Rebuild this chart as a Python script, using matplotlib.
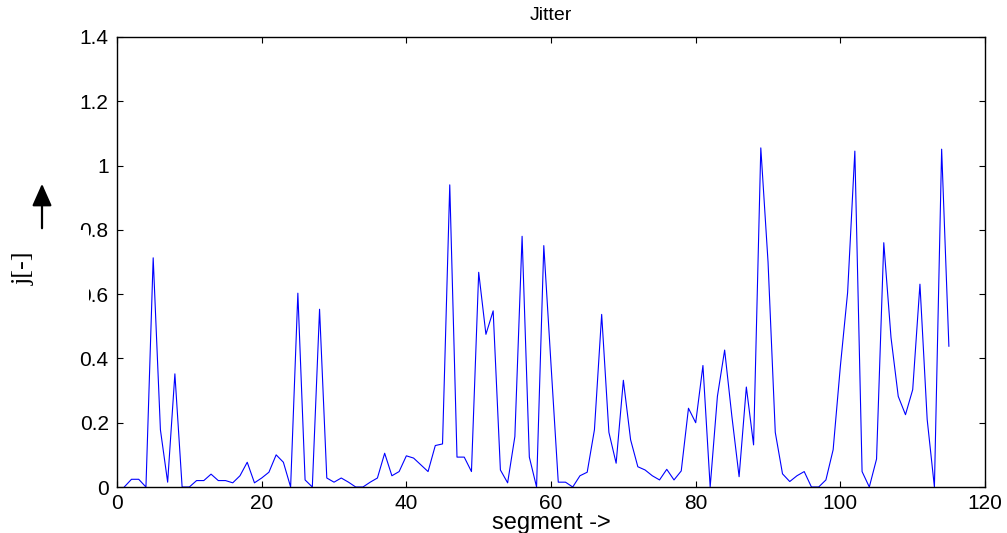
import numpy as np
import matplotlib.pyplot as plt
from matplotlib.patches import Rectangle, FancyArrowPatch

segments = np.arange(1, 116)
jitter = [
    0.0, 0.024, 0.024, 0.0, 0.713, 0.178, 0.015, 0.352, 0.0, 0.0,
    0.02, 0.02, 0.04, 0.02, 0.02, 0.013, 0.035, 0.077, 0.013, 0.028,
    0.046, 0.1, 0.077, 0.0, 0.603, 0.022, 0.0, 0.553, 0.028, 0.015,
    0.028, 0.015, 0.0, 0.0, 0.015, 0.028, 0.105, 0.035, 0.048, 0.097,
    0.09, 0.069, 0.048, 0.129, 0.134, 0.94, 0.093, 0.093, 0.048, 0.668,
    0.475, 0.548, 0.053, 0.013, 0.157, 0.78, 0.093, 0.0, 0.751, 0.38,
    0.015, 0.015, 0.0, 0.035, 0.046, 0.178, 0.537, 0.17, 0.074, 0.332,
    0.147, 0.063, 0.053, 0.035, 0.022, 0.055, 0.022, 0.05, 0.245, 0.2,
    0.378, 0.0, 0.282, 0.426, 0.22, 0.032, 0.311, 0.131, 1.055, 0.70,
    0.17, 0.041, 0.017, 0.035, 0.048, 0.0, 0.0, 0.022, 0.116, 0.376,
    0.605, 1.045, 0.048, 0.0, 0.087, 0.76, 0.465, 0.282, 0.225, 0.303,
    0.631, 0.21, 0.0, 1.051, 0.438,
]
xticks = [0, 20, 40, 60, 80, 100, 120]
yticks = [0, 0.2, 0.4, 0.6, 0.8, 1.0, 1.2, 1.4]
ytick_labels = ["0", "0.2", "0.4", "0.6", "0.8", "1", "1.2", "1.4"]

plt.rcParams['font.family'] = ['Liberation Sans', 'DejaVu Sans']

fig = plt.figure(figsize=(10.07, 5.33), dpi=100)
ax = fig.add_axes([0.1162, 0.0863, 0.8620, 0.8443])

ax.plot(segments, jitter, color='#0000ff', linewidth=0.8)

ax.set_xlim(0, 120)
ax.set_ylim(0, 1.4)
ax.set_xticks(xticks)
ax.set_yticks(yticks)
ax.set_yticklabels(ytick_labels)
ax.tick_params(direction='in', length=4, width=0.8, labelsize=15,
               top=True, right=True)
ax.tick_params(axis='y', pad=6)
ax.tick_params(axis='x', pad=5)
for s in ax.spines.values():
    s.set_linewidth(1.0)

ax.set_title("Jitter", fontsize=14, pad=12)
ax.set_xlabel("segment ->", fontsize=17, labelpad=-1)

# white box over the left labels, as in the original figure
fig.patches.append(Rectangle((56 / 1007, 1 - 310 / 533), 33 / 1007, 80 / 533,
                             transform=fig.transFigure, facecolor='white',
                             edgecolor='none', zorder=5))

fig.text(24 / 1007, 1 - 268 / 533, "j[-]", rotation=90, fontsize=19,
         family='Liberation Serif', ha='center', va='center', zorder=6)
fig.patches.append(FancyArrowPatch(
    (42 / 1007, 1 - 231 / 533), (42 / 1007, 1 - 181 / 533),
    transform=fig.transFigure, arrowstyle='-|>,head_length=0.9,head_width=0.4',
    mutation_scale=15, color='black', linewidth=1.6, zorder=6))

fig.savefig("out.png", dpi=100)
